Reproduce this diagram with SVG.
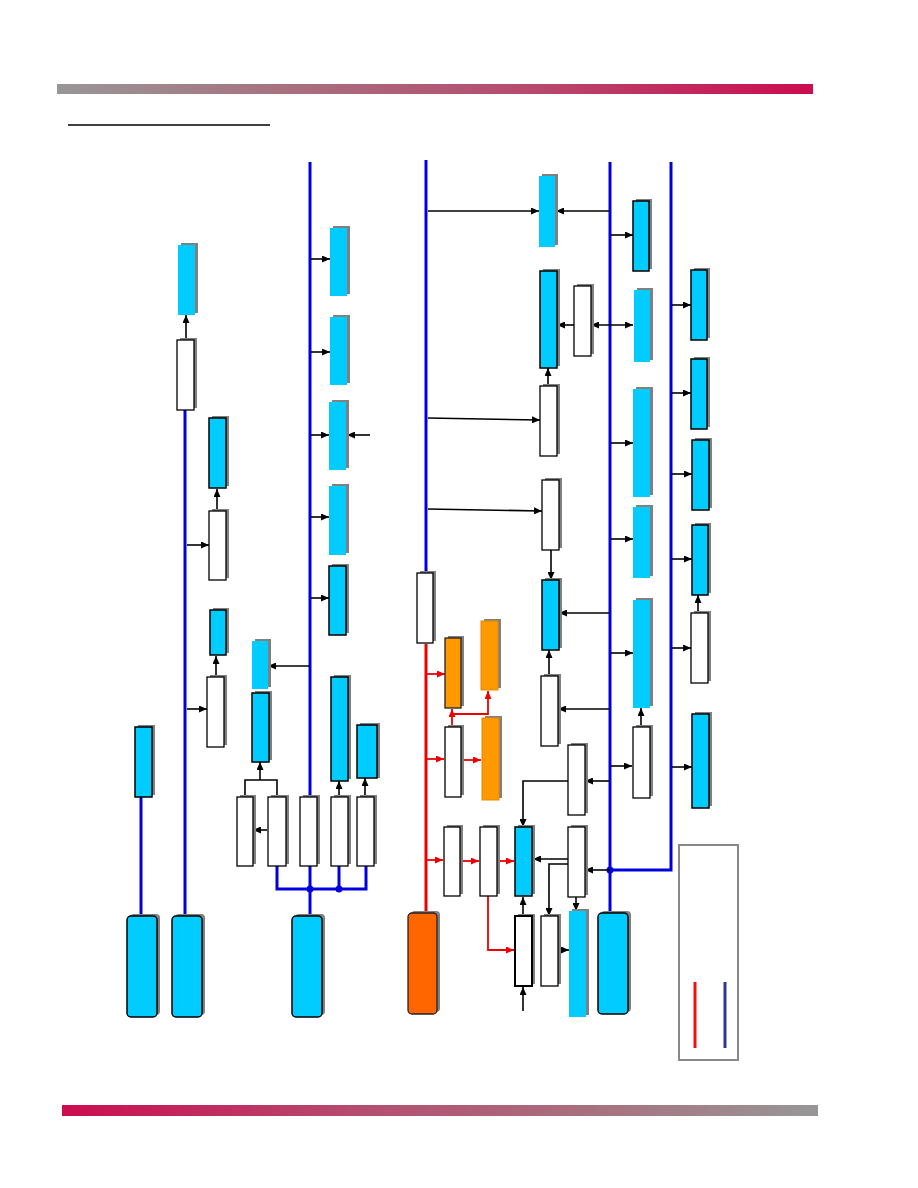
<svg xmlns="http://www.w3.org/2000/svg" width="918" height="1188" viewBox="0 0 918 1188">
<defs>
<linearGradient id="gTop" x1="0" y1="0" x2="1" y2="0">
<stop offset="0" stop-color="#979797"/><stop offset="0.3" stop-color="#a8707f"/><stop offset="0.6" stop-color="#b44e70"/><stop offset="1" stop-color="#cc0c50"/>
</linearGradient>
<linearGradient id="gBot" x1="0" y1="0" x2="1" y2="0">
<stop offset="0" stop-color="#cc0c50"/><stop offset="0.4" stop-color="#b44e70"/><stop offset="0.7" stop-color="#a8707f"/><stop offset="1" stop-color="#979797"/>
</linearGradient>
<marker id="ak" viewBox="0 0 8 7" refX="8" refY="3.5" markerWidth="8" markerHeight="7" markerUnits="userSpaceOnUse" orient="auto-start-reverse"><path d="M0,0 L8,3.5 L0,7 z" fill="#000"/></marker>
<marker id="ar" viewBox="0 0 8 7" refX="8" refY="3.5" markerWidth="8" markerHeight="7" markerUnits="userSpaceOnUse" orient="auto"><path d="M0,0 L8,3.5 L0,7 z" fill="#ee0000"/></marker>
</defs>
<style>
.sh{fill:#808080}
.b{fill:#00ccff;stroke:#000;stroke-width:1.5}
.bn{fill:#00ccff}
.w{fill:#fff;stroke:#000;stroke-width:1.3}
.wt{fill:#fff;stroke:#000;stroke-width:2}
.o{fill:#ff9900;stroke:#222;stroke-width:1.3}
.on{fill:#ff9900;stroke:#e58a00;stroke-width:1}
.oo{fill:#ff6600;stroke:#222;stroke-width:1.3}
.bus{stroke:#0000dd;stroke-width:3;fill:none}
.red{stroke:#ee0000;stroke-width:3;fill:none}
.a{stroke:#000;stroke-width:1.6;fill:none;marker-end:url(#ak)}
.ad{stroke:#000;stroke-width:1.6;fill:none;marker-end:url(#ak);marker-start:url(#ak)}
.l{stroke:#000;stroke-width:1.6;fill:none}
.ra{stroke:#ee0000;stroke-width:1.8;fill:none;marker-end:url(#ar)}
.dot{fill:#0000dd}
</style>
<rect width="918" height="1188" fill="#fff"/>
<rect x="57" y="84" width="756" height="10" fill="url(#gTop)"/>
<line x1="68" y1="125" x2="270" y2="125" stroke="#000" stroke-width="1.5"/>
<rect x="62" y="1105" width="756" height="11" fill="url(#gBot)"/>

<g id="connectors">
<line class="bus" x1="141" y1="797" x2="141" y2="916"/>
<line class="bus" x1="185" y1="410" x2="185" y2="916"/>
<line class="bus" x1="310" y1="162" x2="310" y2="797"/>
<path class="bus" d="M277,866 V889 H366 V866"/>
<line class="bus" x1="310" y1="866" x2="310" y2="916"/>
<line class="bus" x1="339" y1="866" x2="339" y2="889"/>
<line class="bus" x1="426" y1="160" x2="426" y2="573"/>
<line class="red" x1="426" y1="644" x2="426" y2="913"/>
<line class="bus" x1="610" y1="162" x2="610" y2="913"/>
<path class="bus" d="M610,870 H671 V162"/>
<circle class="dot" cx="310" cy="889" r="3.5"/>
<circle class="dot" cx="339" cy="889" r="3.5"/>
<circle class="dot" cx="610" cy="870" r="3.5"/>

<line class="a" x1="186" y1="340" x2="186" y2="315"/>
<line class="a" x1="217" y1="511" x2="217" y2="489"/>
<line class="a" x1="187" y1="545" x2="209" y2="545"/>
<line class="a" x1="216" y1="677" x2="216" y2="656"/>
<line class="a" x1="187" y1="709" x2="207" y2="709"/>
<line class="a" x1="310" y1="666" x2="268" y2="666"/>
<path class="l" d="M245,797 V780 H277 V797"/>
<line class="a" x1="260" y1="780" x2="260" y2="762"/>
<line class="a" x1="267" y1="830" x2="253" y2="830"/>
<line class="a" x1="339" y1="797" x2="339" y2="781"/>
<line class="a" x1="365" y1="797" x2="365" y2="778"/>
<line class="a" x1="311" y1="259" x2="330" y2="259"/>
<line class="a" x1="311" y1="352" x2="330" y2="352"/>
<line class="a" x1="311" y1="435" x2="329" y2="435"/>
<line class="a" x1="370" y1="435" x2="347" y2="435"/>
<line class="a" x1="311" y1="517" x2="329" y2="517"/>
<line class="a" x1="311" y1="598" x2="329" y2="598"/>

<line class="a" x1="428" y1="211" x2="539" y2="211"/>
<line class="a" x1="610" y1="211" x2="556" y2="211"/>
<line class="a" x1="574" y1="325" x2="557" y2="325"/>
<line class="ad" x1="591" y1="325" x2="633" y2="325"/>
<line class="a" x1="548" y1="386" x2="548" y2="368"/>
<line class="a" x1="428" y1="418" x2="540" y2="420"/>
<line class="a" x1="428" y1="509" x2="542" y2="511"/>
<line class="a" x1="551" y1="549" x2="551" y2="580"/>
<line class="a" x1="610" y1="613" x2="559" y2="613"/>
<line class="a" x1="549" y1="676" x2="549" y2="650"/>
<line class="a" x1="610" y1="709" x2="558" y2="709"/>
<line class="a" x1="610" y1="781" x2="585" y2="781"/>
<path class="a" d="M568,781 H523 V827"/>
<line class="a" x1="610" y1="870" x2="585" y2="870"/>
<line class="a" x1="568" y1="859" x2="533" y2="859"/>
<path class="a" d="M568,864 H549 V916"/>
<line class="a" x1="576" y1="896" x2="576" y2="911"/>
<line class="a" x1="523" y1="916" x2="523" y2="897"/>
<line class="a" x1="523" y1="1011" x2="523" y2="987"/>
<line class="a" x1="558" y1="950" x2="569" y2="950"/>

<line class="a" x1="611" y1="235" x2="633" y2="235"/>
<line class="a" x1="611" y1="443" x2="633" y2="443"/>
<line class="a" x1="611" y1="539" x2="633" y2="539"/>
<line class="a" x1="611" y1="653" x2="633" y2="653"/>
<line class="a" x1="641" y1="727" x2="641" y2="708"/>
<line class="a" x1="611" y1="766" x2="632" y2="766"/>
<line class="a" x1="672" y1="305" x2="691" y2="305"/>
<line class="a" x1="672" y1="393" x2="691" y2="393"/>
<line class="a" x1="672" y1="474" x2="692" y2="474"/>
<line class="a" x1="672" y1="559" x2="692" y2="559"/>
<line class="a" x1="698" y1="613" x2="698" y2="595"/>
<line class="a" x1="672" y1="648" x2="691" y2="648"/>
<line class="a" x1="672" y1="767" x2="692" y2="767"/>

<line class="ra" x1="427" y1="674" x2="445" y2="674"/>
<line class="ra" x1="427" y1="759" x2="444" y2="759"/>
<line class="ra" x1="427" y1="860" x2="443" y2="860"/>
<line class="ra" x1="452" y1="727" x2="452" y2="709"/>
<path class="ra" d="M452,714 H488 V691"/>
<line class="ra" x1="461" y1="760" x2="481" y2="760"/>
<line class="ra" x1="461" y1="861" x2="479" y2="861"/>
<line class="ra" x1="497" y1="861" x2="514" y2="861"/>
<path class="ra" d="M488,896 V950 H514"/>
</g>

<g id="n1"><rect class="sh" x="181" y="243" width="17" height="70"/><rect class="bn" x="178" y="245" width="17" height="70"/></g>
<g id="n2"><rect class="sh" x="180" y="338" width="17" height="70"/><rect class="w" x="177" y="340" width="17" height="70"/></g>
<g id="n3"><rect class="sh" x="212" y="416" width="17" height="70"/><rect class="b" x="209" y="418" width="17" height="70"/></g>
<g id="n4"><rect class="sh" x="212" y="509" width="17" height="69"/><rect class="w" x="209" y="511" width="17" height="69"/></g>
<g id="n5"><rect class="sh" x="213" y="608" width="16" height="45"/><rect class="b" x="210" y="610" width="16" height="45"/></g>
<g id="n6"><rect class="sh" x="210" y="675" width="17" height="70"/><rect class="w" x="207" y="677" width="17" height="70"/></g>
<g id="n7"><rect class="sh" x="138" y="725" width="17" height="70"/><rect class="b" x="135" y="727" width="17" height="70"/></g>
<g id="n8"><rect class="sh" x="130" y="914" width="30" height="101" rx="4"/><rect class="b" x="127" y="916" width="30" height="101" rx="4"/></g>
<g id="n9"><rect class="sh" x="175" y="914" width="30" height="101" rx="4"/><rect class="b" x="172" y="916" width="30" height="101" rx="4"/></g>
<g id="n10"><rect class="sh" x="295" y="914" width="30" height="101" rx="4"/><rect class="b" x="292" y="916" width="30" height="101" rx="4"/></g>

<g id="n11"><rect class="sh" x="255" y="639" width="16" height="48"/><rect class="bn" x="252" y="641" width="16" height="48"/></g>
<g id="n12"><rect class="sh" x="255" y="691" width="17" height="69"/><rect class="b" x="252" y="693" width="17" height="69"/></g>
<g id="n13"><rect class="sh" x="240" y="795" width="16" height="69"/><rect class="w" x="237" y="797" width="16" height="69"/></g>
<g id="n14"><rect class="sh" x="271" y="795" width="18" height="69"/><rect class="w" x="268" y="797" width="18" height="69"/></g>
<g id="n15"><rect class="sh" x="303" y="795" width="17" height="69"/><rect class="w" x="300" y="797" width="17" height="69"/></g>
<g id="n16"><rect class="sh" x="334" y="795" width="17" height="69"/><rect class="w" x="331" y="797" width="17" height="69"/></g>
<g id="n17"><rect class="sh" x="360" y="795" width="17" height="69"/><rect class="w" x="357" y="797" width="17" height="69"/></g>
<g id="n18"><rect class="sh" x="334" y="675" width="17" height="104"/><rect class="b" x="331" y="677" width="17" height="104"/></g>
<g id="n19"><rect class="sh" x="360" y="723" width="20" height="55"/><rect class="b" x="357" y="725" width="20" height="53"/></g>
<g id="n20"><rect class="sh" x="333" y="226" width="17" height="68"/><rect class="bn" x="330" y="228" width="17" height="68"/></g>
<g id="n21"><rect class="sh" x="333" y="315" width="17" height="68"/><rect class="bn" x="330" y="317" width="17" height="68"/></g>
<g id="n22"><rect class="sh" x="332" y="400" width="17" height="68"/><rect class="bn" x="329" y="402" width="17" height="68"/></g>
<g id="n23"><rect class="sh" x="332" y="484" width="17" height="69"/><rect class="bn" x="329" y="486" width="17" height="69"/></g>
<g id="n24"><rect class="sh" x="332" y="564" width="17" height="69"/><rect class="b" x="329" y="566" width="17" height="69"/></g>

<g id="n25"><rect class="sh" x="420" y="571" width="16" height="70"/><rect class="w" x="417" y="573" width="16" height="70"/></g>
<g id="n26"><rect class="sh" x="411" y="911" width="29" height="101" rx="4"/><rect class="oo" x="408" y="913" width="29" height="101" rx="4"/></g>
<g id="n27"><rect class="sh" x="448" y="636" width="16" height="70"/><rect class="o" x="445" y="638" width="16" height="70"/></g>
<g id="n28"><rect class="sh" x="484" y="619" width="17" height="69"/><rect class="on" x="481" y="621" width="17" height="69"/></g>
<g id="n29"><rect class="sh" x="448" y="725" width="16" height="70"/><rect class="w" x="445" y="727" width="16" height="70"/></g>
<g id="n30"><rect class="sh" x="485" y="716" width="17" height="82"/><rect class="on" x="482" y="718" width="17" height="82"/></g>
<g id="n31"><rect class="sh" x="447" y="825" width="16" height="69"/><rect class="w" x="444" y="827" width="16" height="69"/></g>
<g id="n32"><rect class="sh" x="483" y="825" width="17" height="69"/><rect class="w" x="480" y="827" width="17" height="69"/></g>
<g id="n33"><rect class="sh" x="518" y="825" width="17" height="69"/><rect class="b" x="515" y="827" width="17" height="69"/></g>
<g id="n34"><rect class="sh" x="518" y="914" width="17" height="70"/><rect class="wt" x="515" y="916" width="17" height="70"/></g>
<g id="n35"><rect class="sh" x="544" y="914" width="17" height="70"/><rect class="w" x="541" y="916" width="17" height="70"/></g>
<g id="n36"><rect class="sh" x="572" y="909" width="17" height="106"/><rect class="bn" x="569" y="911" width="17" height="106"/></g>
<g id="n37"><rect class="sh" x="571" y="825" width="17" height="70"/><rect class="w" x="568" y="827" width="17" height="70"/></g>
<g id="n38"><rect class="sh" x="571" y="743" width="17" height="70"/><rect class="w" x="568" y="745" width="17" height="70"/></g>
<g id="n39"><rect class="sh" x="545" y="578" width="17" height="70"/><rect class="b" x="542" y="580" width="17" height="70"/></g>
<g id="n40"><rect class="sh" x="544" y="674" width="17" height="70"/><rect class="w" x="541" y="676" width="17" height="70"/></g>
<g id="n41"><rect class="sh" x="542" y="174" width="16" height="71"/><rect class="bn" x="539" y="176" width="16" height="71"/></g>
<g id="n42"><rect class="sh" x="543" y="269" width="17" height="97"/><rect class="b" x="540" y="271" width="17" height="97"/></g>
<g id="n43"><rect class="sh" x="577" y="284" width="17" height="70"/><rect class="w" x="574" y="286" width="17" height="70"/></g>
<g id="n44"><rect class="sh" x="543" y="384" width="17" height="70"/><rect class="w" x="540" y="386" width="17" height="70"/></g>
<g id="n45"><rect class="sh" x="545" y="478" width="17" height="70"/><rect class="w" x="542" y="480" width="17" height="70"/></g>

<g id="n46"><rect class="sh" x="636" y="199" width="16" height="70"/><rect class="b" x="633" y="201" width="16" height="70"/></g>
<g id="n47"><rect class="sh" x="637" y="288" width="16" height="72"/><rect class="bn" x="634" y="290" width="16" height="72"/></g>
<g id="n48"><rect class="sh" x="636" y="387" width="17" height="108"/><rect class="bn" x="633" y="389" width="17" height="108"/></g>
<g id="n49"><rect class="sh" x="636" y="505" width="17" height="71"/><rect class="bn" x="633" y="507" width="17" height="71"/></g>
<g id="n50"><rect class="sh" x="636" y="598" width="17" height="108"/><rect class="bn" x="633" y="600" width="17" height="108"/></g>
<g id="n51"><rect class="sh" x="636" y="725" width="17" height="71"/><rect class="w" x="633" y="727" width="17" height="71"/></g>
<g id="n52"><rect class="sh" x="601" y="911" width="30" height="101" rx="4"/><rect class="b" x="598" y="913" width="30" height="101" rx="4"/></g>
<g id="n53"><rect class="sh" x="694" y="268" width="16" height="70"/><rect class="b" x="691" y="270" width="16" height="70"/></g>
<g id="n54"><rect class="sh" x="694" y="357" width="16" height="70"/><rect class="b" x="691" y="359" width="16" height="70"/></g>
<g id="n55"><rect class="sh" x="695" y="438" width="17" height="70"/><rect class="b" x="692" y="440" width="17" height="70"/></g>
<g id="n56"><rect class="sh" x="695" y="523" width="16" height="70"/><rect class="b" x="692" y="525" width="16" height="70"/></g>
<g id="n57"><rect class="sh" x="694" y="611" width="17" height="70"/><rect class="w" x="691" y="613" width="17" height="70"/></g>
<g id="n58"><rect class="sh" x="695" y="712" width="17" height="94"/><rect class="b" x="692" y="714" width="17" height="94"/></g>

<g id="legend">
<rect x="679" y="845" width="59" height="215" fill="#fff" stroke="#888" stroke-width="2"/>
<line x1="695" y1="982" x2="695" y2="1048" stroke="#ee1111" stroke-width="3"/>
<line x1="725" y1="982" x2="725" y2="1048" stroke="#333399" stroke-width="3"/>
</g>
</svg>
